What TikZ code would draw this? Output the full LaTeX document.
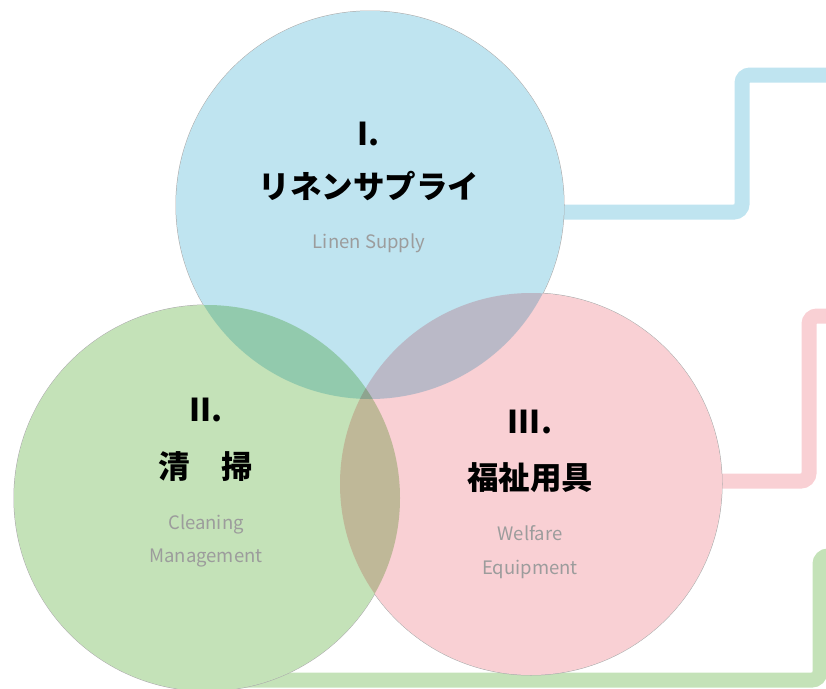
\documentclass[tikz,border=0pt]{standalone}
\usepackage{fontspec}
\setmainfont{Noto Sans CJK JP}
\definecolor{linenblue}{HTML}{BFE4F0}
\definecolor{cleangreen}{HTML}{C4E2B8}
\definecolor{welfarepink}{HTML}{F9D0D4}
\definecolor{rimgray}{HTML}{A8A8A8}
\definecolor{subgray}{HTML}{9C9C9C}
\tikzset{
  headtxt/.style={font=\fontsize{31.5}{36}\selectfont\bfseries, text=black, inner sep=0pt},
  subtxt/.style={font=\fontsize{18.5}{33.5}\selectfont, text=subgray, align=center, inner sep=0pt},
  link/.style={line width=15pt, rounded corners=8pt},
}
\begin{document}
\begin{tikzpicture}[x=1pt,y=-1pt]
\useasboundingbox (0,0) rectangle (826,688);
\coordinate (linen) at (370,205);
\coordinate (clean) at (207,498);
\coordinate (welfare) at (531,484);
\coordinate (lcorner) at (742,75);
\coordinate (lend) at (840,75);
\coordinate (wcorner) at (809,316);
\coordinate (wend) at (840,316);
\coordinate (ccorner) at (820,556);
\coordinate (cend) at (840,556);
% connectors, behind the circles
\draw[link, draw=linenblue] ([yshift=-7pt]linen) -| (lcorner) -- (lend);
\draw[link, draw=welfarepink] ([yshift=3pt]welfare) -| (wcorner) -- (wend);
\draw[link, draw=cleangreen] ([yshift=-182pt]clean) -| (ccorner) -- (cend);
% circles
\foreach \c/\r in {linen/194,clean/193,welfare/191}
  \fill[rimgray] (\c) circle [radius=\r+0.5];
\foreach \c/\r in {linen/194,clean/193,welfare/191}
  \fill[white] (\c) circle [radius=\r];
\begin{scope}[blend mode=multiply]
\fill[linenblue] (linen) circle [radius=194];
\fill[cleangreen] (clean) circle [radius=193];
\fill[welfarepink] (welfare) circle [radius=191];
\end{scope}
% texts
\node[headtxt] (num1) at (369,134) {I.};
\node[headtxt] (jp1) at (369,186) {リネンサプライ};
\node[subtxt] (en1) at (369,243) {Linen Supply};
\node[headtxt] (num2) at (206,410) {II.};
\node[headtxt] (jp2) at (206,467) {清　掃};
\node[subtxt] (en2) at (206,541) {Cleaning\\Management};
\node[headtxt] (num3) at (530,422) {III.};
\node[headtxt] (jp3) at (530,478) {福祉用具};
\node[subtxt] (en3) at (530,552) {Welfare\\Equipment};
\end{tikzpicture}
\end{document}
